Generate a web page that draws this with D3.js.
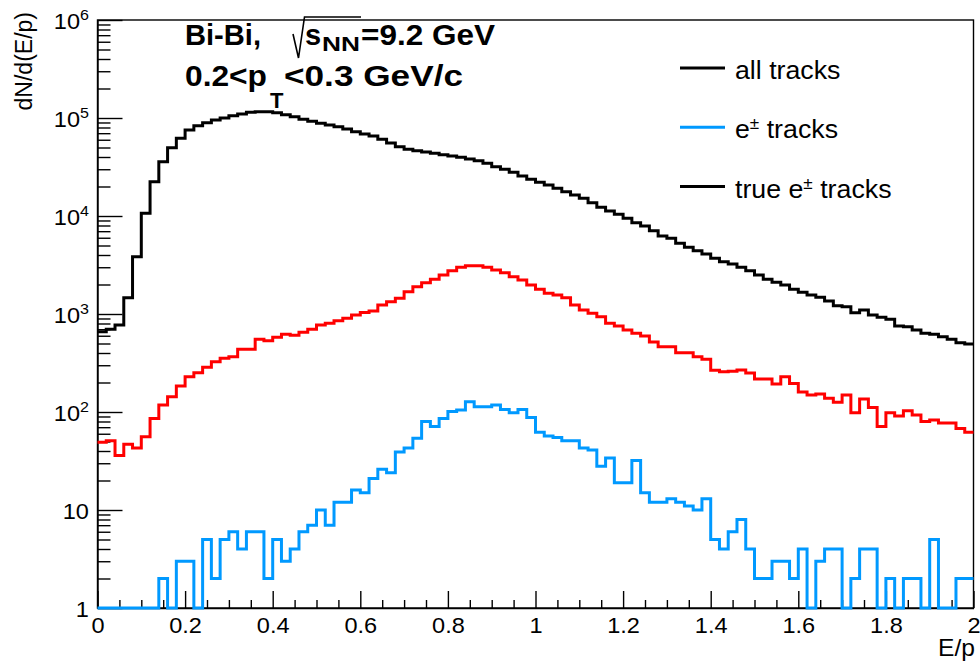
<!DOCTYPE html>
<html>
<head>
<meta charset="utf-8">
<script src="https://cdn.jsdelivr.net/npm/d3@7"></script>
<style>
  body { margin: 0; background: #fff; }
  svg { display: block; }
  text { font-family: "Liberation Sans", Arial, Helvetica, sans-serif; fill: #000; }
</style>
</head>
<body>
<svg id="chart" width="980" height="662"></svg>
<script>
// E/p histograms: 100 bins of width 0.02 between 0 and 2
const xRange = [0, 2];
const nBins = 100;

// all reconstructed tracks
const allTracks = [
  660, 698, 772, 1467, 3845, 10660, 22390, 35810, 49770, 62090,
  75500, 83400, 89500, 95400, 100000, 105500, 109800, 114300, 115900, 115500,
  113200, 108100, 103100, 97000, 92500, 88300, 84900, 81500, 77200, 72500,
  68700, 65500, 60600, 55500, 51000, 48000, 46200, 44950, 43600, 42250,
  40950, 39700, 38150, 36650, 34500, 31850, 29970, 27920, 25600, 23670,
  22070, 20710, 19160, 17700, 16370, 15160, 13670, 12270, 11250, 10400,
  9480, 8550, 7900, 7080, 6250, 5920, 5260, 4790, 4430, 4090,
  3700, 3420, 3240, 3000, 2770, 2500, 2260, 2105, 1977, 1787,
  1665, 1562, 1481, 1357, 1215, 1187, 1030, 1098, 977, 925,
  883, 755, 742, 687, 635, 621, 586, 552, 509, 494
];

// tracks identified as e+-
const eTracks = [
  49, 51, 36, 47, 43, 56, 86, 118, 143, 184,
  229, 252, 286, 326, 353, 367, 436, 436, 552, 534,
  579, 621, 606, 651, 698, 772, 804, 855, 904, 977,
  1036, 1073, 1237, 1336, 1446, 1690, 1901, 2086, 2260, 2500,
  2767, 2996, 3112, 3100, 2996, 2813, 2637, 2403, 2223, 1977,
  1787, 1626, 1562, 1467, 1237, 1098, 1016, 938, 804, 755,
  687, 635, 597, 518, 464, 464, 403, 403, 367, 345,
  267, 258, 260, 268, 250, 217, 217, 193, 229, 195,
  160, 149, 153, 138, 126, 149, 98, 136, 111, 71,
  98, 91, 103, 93, 80, 83, 77, 77, 68, 62
];

// identified tracks that are true e+-
const trueETracks = [
  0, 0, 0, 0, 0, 0, 0, 2, 0, 3,
  3, 0, 5, 2, 5, 6, 4, 6, 6, 2,
  5, 3, 4, 6, 7, 10, 7, 12, 12, 16,
  15, 21, 26, 24, 39, 43, 54, 80, 71, 86,
  101, 105, 127, 113, 113, 118, 106, 98, 106, 88,
  62, 57, 55, 51, 51, 43, 41, 28, 34, 19,
  19, 32, 15, 12, 12, 13, 12, 11, 10, 13,
  5, 4, 6, 8, 4, 2, 2, 3, 3, 2,
  4, 0, 3, 4, 4, 0, 2, 4, 4, 0,
  2, 0, 2, 2, 0, 5, 0, 0, 2, 2
];

const xMajorTicks = [0, 0.2, 0.4, 0.6, 0.8, 1, 1.2, 1.4, 1.6, 1.8, 2];
const xTickLabels = ["0", "0.2", "0.4", "0.6", "0.8", "1", "1.2", "1.4", "1.6", "1.8", "2"];
const yDecades = [1, 10, 1e2, 1e3, 1e4, 1e5, 1e6];

const legendLabels = ["all tracks", "e\u00B1 tracks", "true e\u00B1 tracks"];
const legendColors = ["#000000", "#0099ff", "#000000"];
const seriesColors = { all: "#000000", e: "#ff0000", trueE: "#0099ff" };

// ---------------------------------------------------------------
const svg = d3.select("#chart");
const TEXT_SX = 1.07;
const frame = { left: 97.5, right: 973.5, top: 20, bottom: 608 };

const x = d3.scaleLinear().domain(xRange).range([frame.left, frame.right]);
const y = d3.scaleLog().domain([yDecades[0], yDecades[yDecades.length - 1]]).range([frame.bottom, frame.top]);

function place(sel, px, py) {
  return sel.attr("transform", `translate(${px},${py}) scale(${TEXT_SX},1)`);
}

// frame box
svg.append("rect")
  .attr("x", frame.left).attr("y", frame.top)
  .attr("width", frame.right - frame.left).attr("height", frame.bottom - frame.top)
  .attr("fill", "none").attr("stroke", "#000").attr("stroke-width", 1.4);

// x axis: major ticks every 0.2, minor every 0.05, drawn inward
const xMinor = d3.range(0, 2.0001, 0.05).filter(v => Math.abs(v / 0.2 - Math.round(v / 0.2)) > 1e-6);
const xAxisMinor = d3.axisBottom(x).tickValues(xMinor).tickSize(-8).tickSizeOuter(0).tickFormat("");
const xAxisMajor = d3.axisBottom(x).tickValues(xMajorTicks).tickSize(-17).tickSizeOuter(0)
  .tickPadding(9).tickFormat((d, i) => xTickLabels[i]);

svg.append("g").attr("transform", `translate(0,${frame.bottom})`).call(xAxisMinor)
  .call(g => g.select(".domain").remove())
  .selectAll("line").attr("stroke", "#000").attr("stroke-width", 1.4);
const gx = svg.append("g").attr("transform", `translate(0,${frame.bottom})`).call(xAxisMajor);
gx.select(".domain").attr("stroke", "#000").attr("stroke-width", 1.4);
gx.selectAll("line").attr("stroke", "#000").attr("stroke-width", 1.4);
gx.selectAll("text").attr("font-size", 22).attr("font-family", null)
  .attr("transform", `scale(${TEXT_SX},1)`);

// y axis: log decades with 2..9 minor ticks
const yMinor = [];
yDecades.slice(0, -1).forEach(d => { for (let k = 2; k <= 9; k++) yMinor.push(d * k); });
const yAxisMinor = d3.axisLeft(y).tickValues(yMinor).tickSize(-13).tickSizeOuter(0).tickFormat("");
const yAxisMajor = d3.axisLeft(y).tickValues(yDecades).tickSize(-25).tickSizeOuter(0)
  .tickPadding(8).tickFormat(d => d <= 10 ? String(d) : "10");

svg.append("g").attr("transform", `translate(${frame.left},0)`).call(yAxisMinor)
  .call(g => g.select(".domain").remove())
  .selectAll("line").attr("stroke", "#000").attr("stroke-width", 1.4);
const gy = svg.append("g").attr("transform", `translate(${frame.left},0)`).call(yAxisMajor);
gy.select(".domain").attr("stroke", "#000").attr("stroke-width", 1.4);
gy.selectAll("line").attr("stroke", "#000").attr("stroke-width", 1.4);
gy.selectAll("text").attr("font-size", 22).attr("font-family", null).attr("dy", "0.39em")
  .attr("transform", `scale(${TEXT_SX},1)`)
  .each(function (d) {
    if (d > 10) {
      d3.select(this).append("tspan").attr("dy", -9).attr("font-size", 15)
        .text(String(Math.round(Math.log10(d))));
    }
  });

// histogram outlines (step lines across each bin)
const binW = (xRange[1] - xRange[0]) / nBins;
const yMin = y.domain()[0];
const stepLine = d3.line().curve(d3.curveStepAfter);
function histPath(values) {
  const pts = values.map((v, i) => [x(xRange[0] + i * binW), y(Math.max(v, yMin))]);
  pts.push([x(xRange[1]), y(Math.max(values[values.length - 1], yMin))]);
  return stepLine(pts);
}
[[allTracks, seriesColors.all], [eTracks, seriesColors.e], [trueETracks, seriesColors.trueE]]
  .forEach(([vals, col]) => {
    svg.append("path").attr("d", histPath(vals))
      .attr("fill", "none").attr("stroke", col).attr("stroke-width", 3)
      .attr("stroke-linejoin", "miter").attr("stroke-linecap", "butt");
  });

// axis titles
place(svg.append("text").attr("font-size", 23).attr("text-anchor", "end").text("E/p"), 975, 656);
svg.append("text").attr("font-size", 23).attr("text-anchor", "end")
  .attr("transform", `translate(32,12) rotate(-90)`).text("dN/d(E/p)");

// legend
const leg = svg.append("g");
legendLabels.forEach((lab, i) => {
  const ly = 68 + i * 59.3;
  leg.append("line").attr("x1", 680).attr("x2", 725).attr("y1", ly).attr("y2", ly)
    .attr("stroke", legendColors[i]).attr("stroke-width", 3);
  const t = place(leg.append("text").attr("font-size", 25), 735, ly + 11);
  const parts = lab.split("\u00B1");
  if (parts.length === 1) {
    t.text(lab);
  } else {
    t.append("tspan").text(parts[0]);
    t.append("tspan").attr("dy", -9).attr("font-size", 16).text("\u00B1");
    t.append("tspan").attr("dy", 9).text(parts[1]);
  }
});

// header: collision system / energy and pT window
const hdr = svg.append("g").attr("font-weight", "bold");
hdr.append("path").attr("d", "M293,34 L298.5,58 L304.5,17 H361")
  .attr("fill", "none").attr("stroke", "#000").attr("stroke-width", 1.6);
const line1 = hdr.append("text").attr("font-size", 29);
line1.append("tspan").attr("x", 185).attr("y", 45).attr("textLength", 76)
  .attr("lengthAdjust", "spacingAndGlyphs").text("Bi-Bi,");
line1.append("tspan").attr("x", 305).attr("y", 45).text("s");
line1.append("tspan").attr("x", 322).attr("y", 51).attr("font-size", 21).attr("textLength", 38)
  .attr("lengthAdjust", "spacingAndGlyphs").text("NN");
line1.append("tspan").attr("x", 361).attr("y", 45).attr("textLength", 134)
  .attr("lengthAdjust", "spacingAndGlyphs").text("=9.2 GeV");

const line2 = hdr.append("text").attr("font-size", 29);
line2.append("tspan").attr("x", 185).attr("y", 86).attr("textLength", 82)
  .attr("lengthAdjust", "spacingAndGlyphs").text("0.2<p");
line2.append("tspan").attr("x", 270).attr("y", 108).attr("font-size", 22).text("T");
line2.append("tspan").attr("x", 284).attr("y", 86).attr("textLength", 179)
  .attr("lengthAdjust", "spacingAndGlyphs").text("<0.3 GeV/c");
</script>
</body>
</html>
